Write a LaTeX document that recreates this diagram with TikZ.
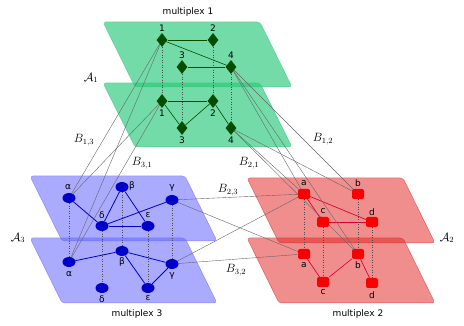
\documentclass[tikz,border=0pt]{standalone}
\usepackage{fontspec}
\setmainfont{DejaVu Sans}
\usetikzlibrary{shapes.geometric}
\definecolor{gdark}{RGB}{0,77,0}
\definecolor{bnode}{RGB}{0,0,200}
\definecolor{rnode}{RGB}{250,0,0}
\definecolor{redge}{RGB}{225,0,50}
\definecolor{gplanec}{RGB}{40,200,120}
\definecolor{bplanec}{RGB}{100,100,255}
\definecolor{rplanec}{RGB}{225,30,30}
\pgfdeclarelayer{bg}
\pgfdeclarelayer{edges}
\pgfsetlayers{bg,edges,main}
\begin{document}
\begin{tikzpicture}[x=1pt,y=-1pt,
  lab/.style={font=\fontsize{9}{10}\selectfont, inner sep=0pt},
  mlab/.style={font=\fontsize{12}{13}\selectfont, inner sep=0pt},
  gn/.style={diamond, fill=gdark, minimum width=11pt, minimum height=14pt, inner sep=0pt},
  bn/.style={ellipse, fill=bnode, minimum width=13pt, minimum height=10pt, inner sep=0pt},
  rn/.style={rectangle, rounded corners=2pt, fill=rnode, minimum width=12pt, minimum height=10pt, inner sep=0pt},
  ge/.style={draw=gdark, line width=0.6pt},
  be/.style={draw=bnode, line width=0.8pt},
  re/.style={draw=redge, line width=0.7pt},
  dl/.style={draw=black!70, dotted, line width=0.5pt},
  ic/.style={draw=black!60, line width=0.4pt},
  plane/.style={fill=#1, draw=#1, draw opacity=0.6, line width=0.5pt, rounded corners=3pt},
]
\useasboundingbox (0,0) rectangle (464,326);

% planes
\begin{pgfonlayer}{bg}
\path[plane=gplanec, fill opacity=0.65] (103,22) -- (260,22) -- (292,87) -- (135,87) -- cycle;
\path[plane=gplanec, fill opacity=0.65] (103,83) -- (260,83) -- (292,147) -- (135,147) -- cycle;
\path[plane=bplanec, fill opacity=0.55] (30,176) -- (185,176) -- (217,241) -- (62,241) -- cycle;
\path[plane=bplanec, fill opacity=0.55] (30,238) -- (185,238) -- (217,303) -- (62,303) -- cycle;
\path[plane=rplanec, fill opacity=0.5] (247,178) -- (403,178) -- (435,243) -- (279,243) -- cycle;
\path[plane=rplanec, fill opacity=0.5] (247,238) -- (403,238) -- (435,303) -- (279,303) -- cycle;
\end{pgfonlayer}

% green nodes
\node[gn] (g1t) at (162,40) {};
\node[gn] (g2t) at (213,40) {};
\node[gn] (g3t) at (182,67) {};
\node[gn] (g4t) at (231,67) {};
\node[gn] (g1l) at (162,101) {};
\node[gn] (g2l) at (213,101) {};
\node[gn] (g3l) at (182,128) {};
\node[gn] (g4l) at (231,128) {};
% blue nodes
\node[bn] (bat) at (69,198) {};
\node[bn] (bbt) at (122,187) {};
\node[bn] (bgt) at (172,200) {};
\node[bn] (bdt) at (102,226) {};
\node[bn] (bet) at (148,226) {};
\node[bn] (bal) at (69,262) {};
\node[bn] (bbl) at (122,251) {};
\node[bn] (bgl) at (172,264) {};
\node[bn] (bdl) at (102,288) {};
\node[bn] (bel) at (148,288) {};
% red nodes
\node[rn] (rat) at (304,194) {};
\node[rn] (rbt) at (358,194) {};
\node[rn] (rct) at (323,222) {};
\node[rn] (rdt) at (372,222) {};
\node[rn] (ral) at (304,254) {};
\node[rn] (rbl) at (358,254) {};
\node[rn] (rcl) at (323,282) {};
\node[rn] (rdl) at (372,283) {};

\begin{pgfonlayer}{edges}
% green edges
\draw[ge] (g1t) -- (g2t);
\draw[ge] (g1t) -- (g4t);
\draw[ge] (g3t) -- (g4t);
\draw[ge] (g1l) -- (g2l);
\draw[ge] (g1l) -- (g3l);
\draw[ge] (g3l) -- (g2l);
\draw[ge] (g2l) -- (g4l);
% blue edges
\draw[be] (bat) -- (bdt);
\draw[be] (bdt) -- (bbt);
\draw[be] (bbt) -- (bet);
\draw[be] (bdt) -- (bet);
\draw[be] (bdt) -- (bgt);
\draw[be] (bal) -- (bbl);
\draw[be] (bbl) -- (bgl);
\draw[be] (bbl) -- (bel);
\draw[be] (bel) -- (bgl);
% red edges
\draw[re] (rat) -- (rct);
\draw[re] (rat) -- (rdt);
\draw[re] (rct) -- (rdt);
\draw[re] (ral) -- (rcl);
\draw[re] (rcl) -- (rbl);
\draw[re] (rbl) -- (rdl);
% dotted inter-layer
\draw[dl] (g1t) -- (g1l);
\draw[dl] (g2t) -- (g2l);
\draw[dl] (g3t) -- (g3l);
\draw[dl] (g4t) -- (g4l);
\draw[dl] (bat) -- (bal);
\draw[dl] (bbt) -- (bbl);
\draw[dl] (bgt) -- (bgl);
\draw[dl] (bdt) -- (bdl);
\draw[dl] (bet) -- (bel);
\draw[dl] (rat) -- (ral);
\draw[dl] (rbt) -- (rbl);
\draw[dl] (rct) -- (rcl);
\draw[dl] (rdt) -- (rdl);
% inter-multiplex connectors
\draw[ic] (g1t.center) -- (bat.center);
\draw[ic] (g1t.center) -- (bal.center);
\draw[ic] (g1l.center) -- (bat.center);
\draw[ic] (g1l.center) -- (bal.center);
\draw[ic] (bgt.center) -- (rat.center);
\draw[ic] (bgt.center) -- (ral.center);
\draw[ic] (bgl.center) -- (rat.center);
\draw[ic] (bgl.center) -- (ral.center);
\draw[ic] (g4t.center) -- (rat.center);
\draw[ic] (g4t.center) -- (rbt.center);
\draw[ic] (g4t.center) -- (rbl.center);
\draw[ic] (g4l.center) -- (rat.center);
\draw[ic] (g4l.center) -- (rbt.center);
\draw[ic] (g4l.center) -- (rbl.center);
\end{pgfonlayer}

% node labels
\node[lab] (lg1t) at (162,28) {1};
\node[lab] (lg2t) at (213,28) {2};
\node[lab] (lg3t) at (182,55) {3};
\node[lab] (lg4t) at (231,55) {4};
\node[lab] (lg1l) at (162,113) {1};
\node[lab] (lg2l) at (213,113) {2};
\node[lab] (lg3l) at (182,140) {3};
\node[lab] (lg4l) at (231,140) {4};
\node[lab] (lbat) at (68,187) {α};
\node[lab] (lbbt) at (132,186) {β};
\node[lab] (lbgt) at (172,188) {γ};
\node[lab] (lbdt) at (102,215) {δ};
\node[lab] (lbet) at (148,215) {ε};
\node[lab] (lbal) at (69,274) {α};
\node[lab] (lbbl) at (122,262) {β};
\node[lab] (lbgl) at (172,276) {γ};
\node[lab] (lbdl) at (102,299) {δ};
\node[lab] (lbel) at (148,298) {ε};
\node[lab] (lrat) at (304,183) {a};
\node[lab] (lrbt) at (358,183) {b};
\node[lab] (lrct) at (323,211) {c};
\node[lab] (lrdt) at (372,212) {d};
\node[lab] (lral) at (304,265) {a};
\node[lab] (lrbl) at (358,265) {b};
\node[lab] (lrcl) at (323,292) {c};
\node[lab] (lrdl) at (372,295) {d};

% titles
\node[lab] (m1) at (188,12) {multiplex 1};
\node[lab] (m3) at (137,314) {multiplex 3};
\node[lab] (m2) at (358,314) {multiplex 2};
\node[mlab] (A1) at (91,78) {$\mathcal{A}_1$};
\node[mlab] (A3) at (18,238) {$\mathcal{A}_3$};
\node[mlab] (A2) at (447,238) {$\mathcal{A}_2$};
\node[mlab] (B13) at (84,140) {$B_{1,3}$};
\node[mlab] (B31) at (142,163) {$B_{3,1}$};
\node[mlab] (B12) at (323,139) {$B_{1,2}$};
\node[mlab] (B21) at (249,163) {$B_{2,1}$};
\node[mlab] (B23) at (228,190) {$B_{2,3}$};
\node[mlab] (B32) at (236,270) {$B_{3,2}$};
\end{tikzpicture}
\end{document}
